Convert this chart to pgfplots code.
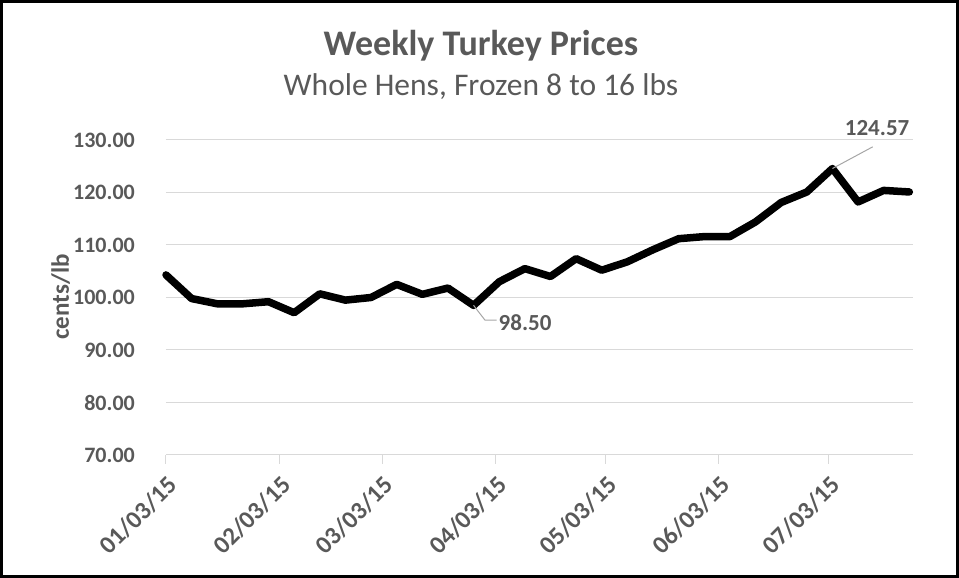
\documentclass[border=0pt]{standalone}
\usepackage{fontspec}
\setmainfont{Carlito}
\usepackage{pgfplots}
\pgfplotsset{compat=1.18}
\definecolor{txt}{HTML}{595959}
\definecolor{gridc}{HTML}{D9D9D9}
\definecolor{lead}{HTML}{A6A6A6}

% weekly prices, x = days since 01/03/15
\pgfplotstableread{
day price
0 104.3
7 99.8
14 98.8
21 98.8
28 99.2
35 97.1
42 100.7
49 99.5
56 100.0
63 102.5
70 100.6
77 101.8
84 98.50
91 103.0
98 105.5
105 104.0
112 107.4
119 105.2
126 106.8
133 109.1
140 111.2
147 111.6
154 111.6
161 114.4
168 118.1
175 120.1
182 124.57
189 118.2
196 120.4
203 120.1
}\prices

\begin{document}
\begin{tikzpicture}
\useasboundingbox (-166pt,-123pt) rectangle (793pt,455pt);
\begin{axis}[
    at={(0,0)}, anchor=south west,
    scale only axis,
    width=747pt, height=315pt,
    xmin=0, xmax=204,
    ymin=70, ymax=130,
    ytick={70,80,...,130},
    xtick={0,31,59,90,120,151,181},
    xticklabels={01/03/15,02/03/15,03/03/15,04/03/15,05/03/15,06/03/15,07/03/15},
    ymajorgrids,
    grid style={gridc, line width=1pt},
    axis x line*=bottom,
    axis y line*=left,
    y axis line style={draw=none},
    x axis line style={gridc, line width=1pt},
    ytick style={draw=none},
    xtick style={gridc, line width=1pt},
    tick align=outside,
    major tick length=9pt,
    /pgf/number format/fixed,
    /pgf/number format/fixed zerofill,
    /pgf/number format/precision=2,
    /pgf/number format/assume math mode=true,
    yticklabel style={anchor=east, inner sep=0pt, xshift=-22pt,
        font=\fontsize{22}{22}\selectfont\bfseries, text=txt},
    xticklabel style={rotate=45, anchor=east, inner sep=0pt,
        xshift=-7pt, yshift=-17pt,
        font=\fontsize{25}{25}\selectfont\bfseries, text=txt},
    ylabel={cents/lb},
    ylabel style={at={(axis description cs:-0.141,0.502)}, anchor=center,
        font=\fontsize{25}{25}\selectfont\bfseries, text=txt},
    clip=false,
]
\addplot[black, line width=7.5pt, line join=round, line cap=round]
    table[x=day, y=price] {\prices};
\draw[lead, line width=1pt] (axis cs:84,98.5) -- (axis cs:87.1,95.7) -- (axis cs:90.3,95.7);
\node[anchor=west, inner sep=0pt, font=\fontsize{23}{23}\selectfont\bfseries, text=txt]
    at (axis cs:90.8,95.2) {98.50};
\draw[lead, line width=1pt] (axis cs:182,124.57) -- (axis cs:193,128.7);
\node[inner sep=0pt, font=\fontsize{23}{23}\selectfont\bfseries, text=txt]
    at (axis cs:194.2,132.2) {124.57};
\end{axis}
\node[anchor=base, font=\fontsize{36}{36}\selectfont\bfseries, text=txt]
    at (315pt,399pt) {Weekly Turkey Prices};
\node[anchor=base, font=\fontsize{31.5}{31.5}\selectfont, text=txt]
    at (315pt,359pt) {Whole Hens, Frozen 8 to 16 lbs};
\draw[black, line width=3pt] (-164.5pt,-121.5pt) rectangle (791.5pt,453.5pt);
\end{tikzpicture}
\end{document}
